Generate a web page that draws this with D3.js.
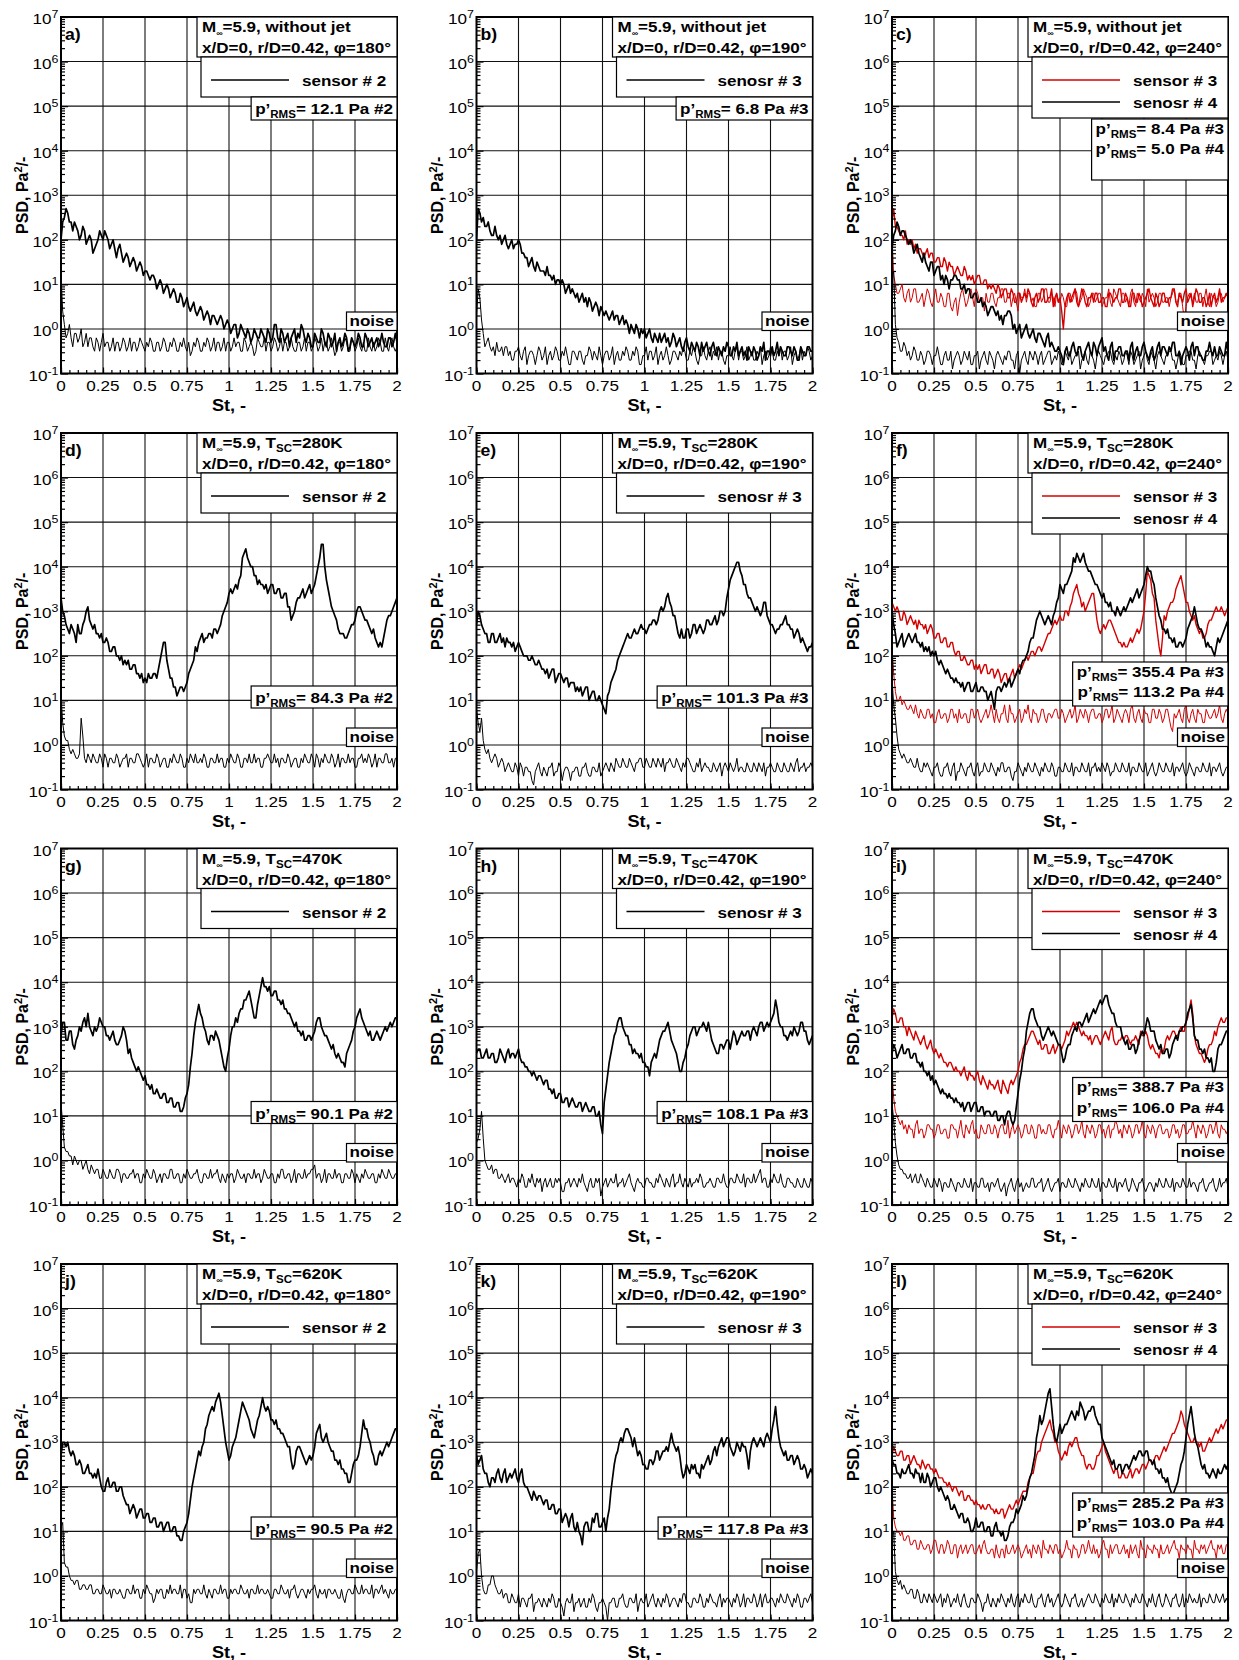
<!doctype html>
<html>
<head>
<meta charset="utf-8">
<title>PSD spectra</title>
<script src="https://cdn.jsdelivr.net/npm/d3@7"></script>
<style>
  body { margin: 0; background: #fff; }
  svg { display: block; font-family: "Liberation Sans", Arial, Helvetica, sans-serif; }
</style>
</head>
<body>
<svg id="chart" width="1239" height="1660"></svg>
<script>
// spectra sampled every 0.01 St from 0 to 2, values in dB: 10*log10(PSD / (1 Pa^2))
var stStep = 0.01;

var aSig = [20,24,25,27,26,24,24,22,24,23,22,20,21,23,22,19,20,21,20,17,
  18,19,20,22,21,20,22,21,20,18,19,20,18,16,18,19,17,15,16,17,
  16,14,15,16,15,13,14,15,14,12,13,13,12,11,12,12,11,9,10,11,
  10,8,9,10,9,7,8,9,8,6,6,8,7,5,6,7,5,4,5,6,
  4,3,4,5,4,2,3,4,3,1,3,3,2,1,2,3,2,0,1,2,
  1,-1,0,1,1,-2,-1,1,0,-1,-2,0,-1,-3,-2,0,-1,-2,-2,0,
  -1,-2,-3,0,-1,-3,-2,1,1,-2,-3,0,-1,-3,-2,-1,-4,-2,-1,0,
  -3,-1,-2,1,0,-2,-3,-1,-2,-4,-4,-1,-2,-3,-3,0,-1,-3,-4,-1,
  -2,-4,-3,-1,-5,-3,-2,-4,-3,-1,-2,-5,-4,-2,-3,-4,-3,-1,-2,-4,
  -4,-1,-2,-4,-3,-2,-4,-3,-2,-4,-3,-1,-3,-4,-4,-2,-2,-4,-3,-1,
  -3];
var aNoise = [12,4,1,-2,-1,1,-2,-4,-1,-1,-3,-2,0,-4,-3,-1,-4,-2,-2,-4,
  -5,-2,-3,-5,-3,-1,-4,-3,-3,-5,-4,-2,-5,-3,-3,-5,-4,-2,-3,-5,
  -4,-2,-5,-3,-3,-5,-4,-2,-3,-4,-5,-3,-4,-2,-3,-5,-5,-3,-3,-5,
  -4,-2,-3,-5,-5,-3,-4,-2,-3,-5,-5,-3,-4,-2,-4,-5,-3,-6,-5,-3,
  -4,-2,-3,-5,-5,-3,-4,-2,-3,-5,-4,-2,-5,-3,-3,-5,-4,-2,-5,-3,
  -3,-5,-4,-2,-4,-3,-3,-5,-5,-2,-3,-5,-4,-3,-4,-6,-5,-2,-3,-4,
  -4,-2,-5,-3,-3,-5,-4,-2,-3,-5,-4,-2,-5,-3,-3,-5,-4,-2,-4,-5,
  -5,-3,-3,-5,-4,-2,-5,-3,-3,-5,-4,-2,-3,-5,-4,-2,-5,-3,-3,-5,
  -4,-2,-4,-6,-5,-3,-3,-5,-4,-2,-3,-5,-5,-2,-3,-5,-4,-2,-4,-5,
  -3,-5,-5,-2,-4,-5,-3,-5,-4,-2,-3,-5,-5,-2,-4,-5,-3,-2,-4,-5,
  -4];

var bSig = [20,27,26,24,25,23,23,24,22,21,21,23,21,20,21,19,20,21,19,18,
  19,20,18,19,19,20,19,17,17,16,16,14,15,16,14,13,15,14,13,13,
  13,12,14,12,12,11,12,10,11,11,10,11,10,8,9,10,8,9,8,7,
  8,6,7,8,6,7,5,7,6,4,5,6,5,3,5,4,3,4,3,2,
  3,4,2,3,3,1,2,3,1,2,1,-1,1,0,-1,1,0,-2,0,-1,
  0,-2,-1,0,-2,-3,-1,-2,-3,-1,-3,-2,-1,-3,-2,-4,-3,-1,-2,-4,
  -3,-2,-4,-5,-3,-2,-4,-5,-3,-4,-5,-3,-4,-6,-3,-5,-4,-3,-5,-6,
  -4,-3,-5,-6,-4,-5,-6,-4,-5,-3,-4,-6,-6,-4,-5,-3,-6,-5,-4,-6,
  -5,-7,-4,-5,-6,-4,-5,-7,-6,-4,-5,-3,-7,-5,-5,-6,-4,-6,-5,-3,
  -6,-4,-5,-6,-6,-4,-4,-5,-6,-4,-5,-7,-7,-4,-5,-6,-6,-4,-4,-5,
  -5];
var bNoise = [3,9,7,2,-1,-4,-3,-2,-4,-5,-4,-6,-3,-5,-5,-4,-6,-4,-4,-6,
  -5,-7,-7,-5,-5,-4,-6,-7,-5,-4,-8,-6,-5,-5,-6,-8,-6,-4,-5,-7,
  -6,-4,-8,-6,-5,-7,-6,-4,-5,-7,-7,-5,-6,-4,-6,-8,-8,-5,-5,-6,
  -7,-5,-5,-7,-8,-6,-6,-4,-5,-7,-5,-6,-7,-4,-6,-8,-6,-5,-5,-7,
  -6,-4,-8,-6,-5,-7,-7,-5,-6,-4,-5,-7,-7,-5,-6,-4,-5,-8,-8,-6,
  -6,-4,-7,-5,-5,-7,-6,-4,-8,-6,-5,-7,-6,-4,-6,-8,-7,-5,-5,-6,
  -7,-5,-6,-4,-5,-7,-7,-5,-6,-4,-5,-7,-8,-6,-6,-4,-6,-7,-5,-4,
  -7,-5,-6,-4,-7,-5,-5,-7,-8,-6,-6,-4,-6,-7,-5,-4,-7,-5,-5,-7,
  -6,-4,-7,-6,-5,-7,-7,-5,-6,-4,-8,-6,-5,-7,-6,-4,-5,-7,-7,-5,
  -6,-4,-7,-5,-5,-7,-6,-4,-8,-6,-5,-7,-6,-4,-7,-5,-6,-4,-5,-7,
  -6];

var cSig3 = [24,27,23,23,22,21,21,20,22,19,20,19,20,18,19,17,18,18,17,16,
  17,18,16,17,17,15,15,16,16,14,14,16,15,13,15,14,14,12,13,14,
  13,12,12,14,13,11,12,11,12,10,11,12,12,10,10,11,11,9,10,9,
  10,9,8,10,9,7,8,9,9,7,7,9,8,6,6,8,8,6,7,8,
  7,9,8,6,5,7,8,6,7,9,9,6,6,7,7,9,5,7,8,6,
  7,4,0,5,7,8,6,7,8,9,6,5,7,9,8,6,5,7,7,8,
  6,8,8,6,6,7,7,5,5,8,8,7,6,7,7,9,9,6,6,8,
  7,5,5,8,8,6,6,8,7,5,6,7,8,9,7,6,5,8,7,5,
  6,8,8,6,6,7,7,9,9,6,5,8,7,6,8,9,6,7,8,5,
  7,9,8,6,6,7,7,5,6,8,5,7,8,6,7,9,6,7,7,8,
  7];
var cSig4 = [18,21,22,24,23,21,22,22,21,20,19,20,19,17,18,19,17,16,15,17,
  15,14,13,15,15,12,13,14,14,11,12,10,12,11,9,11,11,12,12,11,
  11,9,9,10,8,9,9,7,7,8,8,6,6,7,5,6,5,3,4,5,
  5,4,3,4,2,3,1,3,3,4,4,3,0,1,-1,0,1,-2,-1,0,
  1,-1,-2,-1,0,-2,-3,-1,-1,-2,-3,-4,-2,-1,-4,-3,-4,-5,-5,-4,
  -5,-6,-8,-5,-4,-6,-6,-4,-3,-5,-6,-4,-4,-6,-7,-5,-4,-3,-5,-6,
  -3,-4,-6,-4,-3,-2,-5,-4,-6,-7,-4,-3,-7,-5,-5,-4,-4,-6,-6,-5,
  -5,-7,-4,-3,-7,-5,-4,-6,-6,-4,-3,-5,-6,-7,-5,-4,-7,-6,-4,-3,
  -6,-4,-4,-5,-6,-4,-5,-3,-3,-6,-6,-5,-8,-6,-5,-4,-5,-7,-4,-3,
  -6,-4,-4,-6,-6,-7,-7,-5,-5,-3,-5,-6,-4,-6,-6,-4,-5,-6,-6,-3,
  -5];
var cNoise3 = [21,12,10,8,8,9,10,7,6,8,9,6,7,9,9,6,6,7,8,5,
  7,9,8,6,5,7,9,6,6,8,7,5,5,8,8,5,4,6,7,3,
  6,8,9,7,5,6,8,9,7,5,9,8,6,7,7,4,8,6,6,8,
  8,6,5,7,7,9,9,6,6,8,8,5,7,8,6,4,8,7,7,9,
  6,8,8,6,7,5,5,8,8,6,7,9,9,6,6,8,7,5,8,6,
  6,8,7,5,5,8,8,6,7,9,8,5,6,7,9,8,7,5,6,8,
  8,6,7,8,8,5,6,7,7,9,6,5,9,8,7,6,5,8,8,6,
  7,5,8,9,6,5,8,7,6,8,7,5,9,6,7,8,7,5,6,8,
  8,6,6,7,7,5,7,8,9,6,6,8,8,5,2,5,7,8,7,6,
  8,6,6,8,8,5,7,9,6,5,8,7,7,5,6,8,8,6,7,8,
  7];
var cNoise4 = [12,13,1,-2,-3,-5,-5,-3,-4,-6,-5,-7,-6,-4,-5,-7,-7,-5,-6,-8,
  -7,-5,-5,-6,-8,-6,-6,-4,-6,-8,-8,-6,-5,-7,-7,-5,-9,-7,-6,-5,
  -6,-8,-7,-5,-6,-7,-5,-8,-8,-6,-6,-5,-9,-7,-6,-5,-7,-8,-5,-6,
  -7,-9,-6,-5,-6,-7,-8,-6,-7,-5,-5,-7,-7,-9,-6,-5,-10,-7,-6,-5,
  -7,-8,-5,-6,-7,-5,-6,-8,-6,-5,-8,-7,-6,-5,-5,-8,-7,-6,-7,-5,
  -6,-8,-8,-5,-6,-7,-5,-8,-7,-6,-6,-5,-9,-7,-6,-5,-7,-8,-5,-6,
  -7,-9,-6,-5,-6,-7,-8,-6,-6,-5,-5,-7,-8,-6,-7,-5,-6,-8,-7,-5,
  -6,-8,-5,-6,-8,-7,-6,-5,-9,-7,-6,-5,-7,-8,-5,-6,-7,-9,-6,-5,
  -6,-7,-8,-6,-6,-5,-5,-7,-7,-9,-7,-5,-6,-8,-8,-6,-6,-5,-5,-7,
  -7,-9,-6,-5,-6,-7,-8,-6,-6,-5,-5,-8,-7,-6,-7,-5,-6,-8,-6,-5,
  -7];

var dSig = [33,30,29,27,26,25,27,26,25,23,27,25,25,27,28,30,31,28,27,26,
  27,25,25,24,25,23,23,24,23,21,21,22,22,20,20,19,20,18,19,18,
  19,17,17,18,18,16,16,15,16,14,15,14,16,15,15,16,16,15,17,19,
  21,23,23,19,17,15,15,13,13,11,12,13,13,12,13,14,16,17,18,19,
  22,21,23,24,25,23,24,24,25,25,24,26,26,25,26,27,29,30,31,32,
  34,35,34,35,36,35,37,38,42,43,44,42,41,40,40,38,38,36,37,36,
  36,35,36,34,35,36,36,34,34,35,35,33,33,34,34,31,31,28,29,30,
  32,33,33,34,35,33,34,35,36,34,35,36,38,40,42,45,45,40,37,35,
  33,31,30,29,28,26,25,25,25,24,24,25,26,27,27,28,30,31,31,30,
  29,28,28,27,26,25,26,24,23,22,23,22,24,26,28,29,29,30,31,32,
  33];
var dNoise = [11,5,2,1,1,-1,-2,-1,-2,-3,-3,-2,6,2,-3,-4,-2,-3,-4,-2,
  -3,-4,-4,-2,-3,-5,-2,-3,-5,-3,-3,-4,-4,-2,-3,-5,-4,-3,-3,-2,
  -5,-3,-3,-4,-4,-2,-2,-3,-4,-5,-4,-2,-5,-3,-3,-4,-4,-2,-3,-5,
  -4,-3,-3,-5,-5,-3,-4,-2,-3,-4,-4,-2,-3,-5,-5,-3,-4,-2,-3,-4,
  -2,-4,-4,-3,-4,-2,-3,-5,-5,-3,-3,-4,-4,-2,-4,-3,-3,-5,-5,-3,
  -4,-2,-3,-4,-4,-2,-3,-5,-5,-3,-3,-4,-2,-4,-4,-2,-4,-3,-3,-5,
  -5,-3,-3,-2,-3,-4,-4,-2,-4,-3,-5,-3,-3,-4,-4,-2,-3,-5,-4,-3,
  -3,-5,-5,-3,-4,-2,-3,-4,-4,-2,-3,-5,-2,-3,-5,-3,-4,-2,-3,-4,
  -4,-2,-3,-5,-4,-2,-5,-3,-3,-4,-4,-2,-4,-3,-3,-5,-5,-3,-3,-2,
  -4,-3,-4,-2,-3,-5,-4,-2,-5,-3,-3,-4,-4,-2,-2,-4,-4,-3,-5,-3,
  -3];

var eSig = [27,30,29,27,26,25,25,23,23,25,25,23,23,24,25,23,24,22,24,23,
  23,22,23,21,22,23,22,21,20,20,20,19,19,20,19,18,18,19,18,17,
  17,16,17,15,16,17,17,14,15,16,16,15,14,15,15,13,14,14,14,12,
  13,12,13,11,12,13,13,10,11,12,12,10,10,11,10,9,8,7,11,12,
  14,15,16,17,19,20,21,22,23,24,25,24,24,25,26,25,25,26,27,26,
  26,25,26,27,27,28,28,27,28,30,31,30,31,33,34,32,31,29,29,27,
  25,24,26,24,24,26,26,24,25,27,27,25,26,27,26,25,26,28,28,27,
  27,28,29,27,28,30,30,29,30,33,35,37,38,39,40,41,41,39,38,36,
  36,34,33,33,32,31,30,31,30,29,30,32,32,29,28,27,27,26,25,26,
  26,27,27,28,29,27,27,26,26,24,25,26,25,23,24,23,22,21,22,22,
  23];
var eNoise = [8,5,3,6,1,-1,-2,-1,-3,-4,-3,-2,-3,-5,-4,-3,-4,-6,-5,-4,
  -5,-6,-6,-4,-5,-7,-4,-5,-7,-5,-5,-6,-6,-8,-9,-6,-5,-4,-6,-7,
  -5,-6,-7,-5,-5,-4,-7,-6,-6,-4,-5,-8,-6,-5,-5,-6,-8,-6,-6,-5,
  -5,-7,-7,-5,-5,-4,-6,-7,-7,-5,-5,-6,-6,-4,-7,-6,-5,-4,-5,-6,
  -4,-5,-6,-3,-4,-5,-5,-3,-4,-5,-5,-3,-4,-5,-6,-4,-4,-3,-3,-5,
  -5,-3,-4,-5,-5,-3,-4,-5,-3,-4,-5,-3,-6,-4,-4,-3,-4,-5,-5,-3,
  -4,-5,-6,-4,-5,-3,-3,-4,-5,-6,-6,-4,-5,-3,-6,-5,-4,-5,-5,-6,
  -6,-4,-5,-6,-5,-4,-7,-5,-4,-5,-6,-4,-5,-6,-5,-3,-6,-5,-5,-6,
  -6,-4,-5,-6,-6,-4,-5,-6,-4,-5,-6,-4,-7,-5,-5,-4,-5,-6,-6,-4,
  -5,-6,-6,-4,-5,-6,-6,-4,-5,-6,-4,-3,-6,-5,-5,-4,-6,-5,-5,-4,
  -5];

var fSig3 = [32,31,30,31,30,28,28,30,29,27,28,29,28,27,28,26,28,27,27,26,
  27,25,26,27,26,24,24,25,25,23,23,24,24,22,22,23,23,21,20,21,
  21,19,19,20,19,18,18,19,19,17,18,17,18,16,17,18,18,16,16,17,
  17,15,16,17,16,14,15,16,16,14,15,16,17,15,16,17,18,17,18,19,
  20,19,20,21,21,20,21,22,22,21,22,23,24,25,25,26,27,28,27,28,
  29,28,28,30,30,29,31,32,34,35,36,34,33,31,32,30,31,32,33,34,
  34,31,28,26,25,26,27,26,27,28,28,27,26,25,24,23,23,22,23,22,
  22,23,24,23,24,25,26,25,26,28,30,34,39,38,37,34,33,28,25,22,
  20,24,29,28,30,31,32,32,33,35,36,37,38,36,34,32,32,30,29,28,
  29,27,26,25,26,24,24,25,27,28,28,29,30,31,30,30,31,30,29,30,
  31];
var fSig4 = [30,27,25,22,23,24,25,22,23,24,25,24,23,24,25,23,23,22,23,21,
  22,21,22,20,21,20,21,19,18,19,18,17,16,17,16,15,15,14,15,14,
  14,13,14,12,13,14,14,12,12,13,14,12,12,13,13,12,12,10,11,12,
  10,8,12,13,13,12,13,14,13,14,15,13,14,15,16,17,16,18,19,19,
  20,21,23,24,24,26,28,29,30,29,28,27,28,29,28,27,29,30,32,33,
  36,35,34,36,36,37,38,39,42,41,43,42,41,42,43,41,40,39,39,38,
  37,36,36,35,34,33,34,32,32,31,32,30,30,29,31,30,29,30,31,30,
  31,32,33,32,33,34,35,33,34,35,36,38,40,39,39,37,36,33,31,29,
  28,26,26,25,26,24,24,23,24,22,22,23,23,22,23,24,26,27,28,29,
  31,29,27,26,26,25,24,22,23,22,22,21,20,22,24,23,24,25,26,27,
  28];
var fNoise3 = [22,16,12,10,10,11,9,10,9,8,8,9,8,7,9,7,6,8,7,6,
  6,8,8,6,7,5,5,7,8,6,6,7,7,5,6,8,8,6,7,5,
  8,6,6,7,7,5,5,8,8,6,7,8,6,5,6,7,8,6,7,9,
  7,5,8,6,5,7,7,9,6,5,9,7,7,5,6,7,8,5,6,8,
  7,9,6,5,8,7,7,5,6,8,8,6,5,7,7,6,7,8,8,6,
  6,8,7,5,6,7,8,6,7,9,5,6,8,7,6,8,7,5,7,8,
  8,6,6,7,7,5,6,8,8,6,7,9,5,6,8,7,6,5,7,8,
  7,5,8,9,6,5,7,8,6,5,8,7,7,5,5,8,8,6,6,8,
  7,5,6,8,8,6,4,3,7,6,7,8,6,5,8,9,6,5,7,8,
  6,5,8,7,7,5,5,8,7,6,6,7,8,6,7,9,6,5,7,8,
  7];
var fNoise4 = [15,9,6,2,-1,-2,-3,-2,-3,-4,-4,-3,-4,-5,-5,-3,-5,-6,-6,-4,
  -5,-4,-5,-6,-7,-5,-5,-4,-6,-7,-7,-5,-5,-4,-6,-7,-5,-4,-8,-6,
  -6,-4,-5,-6,-7,-5,-5,-4,-6,-7,-5,-4,-7,-6,-6,-4,-5,-6,-6,-4,
  -5,-6,-7,-5,-6,-4,-4,-6,-6,-5,-5,-7,-8,-6,-6,-4,-5,-6,-7,-5,
  -6,-4,-5,-6,-6,-4,-5,-6,-7,-5,-6,-4,-5,-6,-6,-4,-5,-7,-7,-5,
  -5,-6,-6,-4,-5,-6,-6,-4,-7,-5,-5,-6,-6,-4,-5,-6,-6,-4,-7,-5,
  -5,-4,-6,-5,-6,-4,-5,-6,-4,-5,-7,-6,-6,-4,-5,-6,-6,-4,-5,-6,
  -6,-4,-7,-5,-5,-6,-6,-4,-5,-6,-6,-4,-7,-6,-5,-4,-6,-7,-6,-4,
  -5,-6,-6,-4,-5,-6,-6,-4,-7,-5,-5,-6,-5,-4,-6,-7,-6,-4,-5,-6,
  -7,-5,-5,-6,-6,-4,-5,-6,-6,-4,-7,-5,-5,-6,-5,-4,-6,-7,-6,-5,
  -5];

var gSig = [28,31,31,27,27,29,29,26,25,27,28,30,29,31,32,30,33,30,29,28,
  30,29,30,32,31,30,30,28,28,27,28,29,27,26,26,27,28,30,29,27,
  24,25,23,22,21,20,21,20,19,18,19,17,17,16,17,15,15,16,15,14,
  14,15,15,13,13,14,14,12,12,13,13,11,11,12,14,15,17,21,24,28,
  31,33,35,33,32,30,29,27,26,28,28,27,29,28,27,25,23,21,20,23,
  25,28,30,30,32,31,33,34,34,36,36,37,38,36,34,32,32,35,37,39,
  41,39,39,38,39,37,37,38,38,36,36,35,36,34,34,33,33,32,31,30,
  31,29,29,28,29,27,27,28,28,27,28,29,31,32,32,30,29,28,28,27,
  26,25,26,24,23,24,23,22,22,21,24,25,26,27,29,30,32,33,34,32,
  31,30,29,28,29,27,27,28,29,28,27,28,29,30,29,30,31,30,31,32,
  32];
var gNoise = [13,8,3,2,2,1,1,-1,1,0,-1,0,0,-2,-1,0,-2,-3,-1,-2,
  -3,-2,-2,-4,-4,-2,-3,-4,-4,-2,-3,-4,-4,-2,-2,-3,-5,-3,-3,-4,
  -4,-3,-3,-2,-4,-3,-3,-5,-5,-3,-4,-2,-3,-4,-4,-2,-3,-5,-4,-3,
  -5,-3,-3,-4,-4,-2,-2,-4,-4,-3,-3,-5,-5,-3,-4,-2,-3,-4,-4,-3,
  -3,-2,-4,-5,-5,-3,-3,-4,-4,-2,-4,-3,-3,-2,-4,-5,-3,-4,-5,-3,
  -4,-3,-3,-5,-4,-2,-3,-4,-4,-3,-5,-3,-3,-4,-4,-2,-4,-3,-3,-5,
  -4,-2,-3,-4,-4,-3,-3,-5,-5,-3,-4,-2,-2,-4,-4,-3,-3,-5,-4,-2,
  -5,-3,-3,-4,-4,-2,-4,-3,-3,-2,-2,-1,-4,-3,-3,-5,-4,-2,-5,-3,
  -3,-4,-4,-2,-4,-3,-3,-5,-5,-3,-3,-4,-4,-2,-3,-5,-3,-4,-5,-3,
  -4,-2,-3,-4,-4,-3,-3,-5,-5,-3,-4,-2,-3,-4,-4,-2,-3,-4,-4,-3,
  -3];

var hSig = [24,25,25,23,23,24,25,23,23,24,24,22,22,23,25,24,23,22,24,25,
  23,24,24,23,24,25,23,22,22,21,21,20,20,19,20,19,18,19,19,18,
  17,18,18,16,16,15,16,14,14,15,15,13,13,14,14,12,13,14,13,12,
  12,13,13,11,12,13,12,11,11,12,12,10,10,11,8,6,13,16,19,22,
  24,26,28,29,31,32,32,30,29,28,28,26,26,24,25,24,24,23,24,22,
  22,21,21,19,22,23,24,23,25,27,28,29,29,30,31,29,27,26,25,24,
  22,20,20,22,23,25,26,28,29,30,30,28,29,30,30,31,30,29,31,29,
  27,26,25,24,24,26,26,25,26,27,27,25,27,29,28,26,27,28,29,28,
  28,29,29,27,29,30,29,28,30,31,31,29,30,31,30,31,32,33,36,34,
  31,30,30,28,28,27,28,29,28,30,29,28,29,31,31,29,29,27,26,27,
  28];
var hNoise = [4,5,7,11,5,0,-1,-2,-2,-1,-3,-2,-2,-4,-4,-3,-4,-5,-4,-3,
  -5,-4,-4,-5,-6,-4,-5,-3,-4,-6,-6,-4,-5,-3,-5,-6,-4,-5,-4,-7,
  -5,-4,-6,-5,-4,-6,-6,-4,-5,-4,-5,-7,-7,-5,-5,-4,-6,-5,-4,-5,
  -6,-4,-5,-3,-5,-6,-7,-5,-4,-6,-6,-4,-5,-4,-8,-6,-5,-4,-6,-5,
  -4,-5,-5,-3,-6,-5,-5,-4,-6,-5,-4,-3,-5,-6,-7,-5,-4,-5,-5,-6,
  -6,-4,-4,-5,-5,-6,-6,-4,-5,-3,-4,-5,-6,-4,-5,-6,-4,-3,-6,-5,
  -5,-3,-5,-6,-4,-5,-6,-4,-6,-5,-5,-4,-5,-3,-4,-6,-6,-5,-5,-4,
  -5,-6,-6,-4,-4,-5,-5,-3,-5,-6,-6,-4,-4,-5,-5,-3,-4,-5,-5,-3,
  -6,-4,-4,-5,-5,-3,-5,-4,-3,-2,-5,-4,-4,-6,-6,-4,-5,-3,-4,-5,
  -5,-3,-5,-6,-6,-4,-4,-5,-5,-6,-6,-4,-5,-6,-6,-4,-5,-6,-6,-4,
  -5];

var iSig3 = [32,34,33,31,31,32,32,30,30,28,30,29,28,27,29,28,27,26,27,28,
  26,25,26,27,25,24,25,24,23,24,23,22,22,21,22,22,21,20,21,20,
  20,19,20,21,19,18,20,19,19,18,19,20,18,17,19,18,17,16,18,17,
  17,16,17,18,16,15,18,17,16,15,17,18,17,18,19,20,22,23,25,26,
  26,27,28,29,29,28,27,26,27,25,25,26,26,24,24,25,26,24,25,26,
  26,25,26,27,29,28,29,30,31,30,31,30,29,28,29,28,28,27,28,26,
  27,28,28,27,26,27,28,29,28,27,29,30,27,26,26,27,27,28,27,28,
  28,27,26,27,27,28,27,26,29,28,28,29,28,26,25,26,25,24,24,23,
  25,24,25,27,28,27,28,29,29,28,28,29,30,29,29,31,32,34,36,33,
  28,26,25,24,24,23,22,23,25,26,26,27,29,28,30,31,32,31,31,32,
  32];
var iSig4 = [24,26,25,23,24,25,26,24,24,25,25,23,23,24,24,22,22,21,22,20,
  20,19,20,18,19,17,18,17,16,15,16,15,15,14,15,14,14,13,14,13,
  13,12,13,11,12,13,13,11,12,13,13,11,11,12,12,10,11,11,11,10,
  10,11,11,9,9,10,10,8,10,11,11,9,8,9,12,15,18,20,23,25,
  29,31,33,34,34,32,31,30,30,28,27,28,29,30,29,28,29,28,27,26,
  26,24,22,23,25,26,26,28,29,30,29,31,31,30,31,32,33,31,32,33,
  34,33,34,35,36,35,36,37,37,35,34,33,33,31,30,30,30,28,27,26,
  27,25,25,26,26,24,25,27,28,29,28,30,32,31,29,29,29,27,26,25,
  26,24,24,25,25,23,24,26,27,28,27,29,29,30,30,31,33,34,35,32,
  28,27,27,25,25,24,25,23,23,22,23,20,20,22,25,26,26,27,28,29,
  29];
var iNoise3 = [20,14,11,10,9,8,9,7,8,6,8,7,7,5,8,9,6,7,7,5,
  6,8,8,7,7,5,6,8,8,6,6,7,7,5,5,8,8,7,7,5,
  7,9,6,5,8,7,6,8,9,6,7,5,5,8,7,6,6,8,8,6,
  6,8,7,5,7,8,8,6,6,9,5,7,8,6,7,8,7,5,6,8,
  8,6,6,8,7,5,5,8,8,6,7,6,6,8,8,6,5,7,7,9,
  7,5,8,7,6,8,7,5,6,8,8,6,7,9,6,5,8,7,6,8,
  7,5,6,8,8,6,7,5,7,8,5,7,7,9,8,6,7,5,8,7,
  6,8,7,5,6,8,8,6,7,9,6,5,8,7,6,8,7,5,7,8,
  8,6,6,7,7,5,6,8,8,6,7,5,6,8,8,6,6,7,7,9,
  7,5,8,7,6,8,7,5,6,8,8,6,7,9,6,5,8,7,7,6,
  7];
var iNoise4 = [13,9,4,1,-1,-2,-2,-3,-3,-4,-4,-3,-5,-4,-3,-5,-5,-3,-4,-5,
  -6,-4,-5,-6,-6,-4,-5,-6,-4,-5,-7,-5,-5,-6,-6,-4,-5,-6,-7,-5,
  -5,-6,-6,-4,-5,-6,-6,-4,-7,-5,-5,-6,-6,-4,-4,-6,-6,-5,-7,-5,
  -5,-6,-5,-4,-6,-7,-6,-5,-8,-6,-5,-4,-6,-7,-5,-4,-6,-5,-7,-6,
  -5,-6,-6,-4,-4,-6,-6,-5,-5,-4,-7,-6,-5,-4,-6,-7,-6,-5,-5,-4,
  -7,-5,-5,-6,-6,-4,-5,-6,-6,-4,-5,-6,-7,-5,-6,-4,-5,-6,-6,-4,
  -5,-6,-6,-4,-7,-5,-5,-6,-6,-4,-5,-6,-6,-4,-7,-5,-5,-6,-5,-4,
  -6,-7,-6,-4,-5,-6,-7,-5,-5,-4,-6,-7,-6,-5,-5,-6,-7,-5,-6,-4,
  -5,-6,-6,-4,-5,-6,-6,-4,-7,-5,-5,-6,-6,-4,-5,-6,-6,-4,-6,-5,
  -5,-6,-7,-5,-5,-4,-6,-7,-6,-5,-5,-4,-6,-7,-6,-4,-6,-5,-5,-4,
  -6];

var jSig = [27,30,30,29,30,28,27,28,27,25,25,26,25,23,23,24,25,23,23,22,
  23,22,24,22,20,19,19,21,22,20,20,21,21,19,19,20,20,18,17,16,
  16,14,15,16,15,13,14,15,15,13,13,14,14,12,12,13,13,11,11,12,
  12,10,11,12,12,10,10,11,11,9,9,8,8,10,11,12,14,17,20,22,
  24,26,28,27,29,30,33,34,36,37,38,37,39,40,41,39,36,33,30,28,
  26,27,29,30,31,33,35,37,39,38,37,36,35,33,32,31,33,35,36,38,
  40,38,37,38,37,35,35,34,35,33,33,32,32,31,30,29,29,26,24,25,
  28,29,29,28,27,26,25,26,27,26,27,29,32,33,34,31,30,31,32,30,
  29,28,28,26,26,25,26,24,24,23,23,21,21,23,25,26,26,27,29,32,
  35,33,33,31,30,28,27,25,25,27,28,27,28,29,30,29,30,31,32,33,
  33];
var jNoise = [11,12,3,2,2,0,-1,-1,-2,-1,-1,-3,-3,-2,-2,-3,-3,-2,-2,-4,
  -4,-3,-3,-4,-4,-2,-3,-4,-4,-3,-5,-3,-3,-4,-4,-3,-4,-5,-5,-3,
  -3,-4,-4,-2,-4,-3,-3,-5,-5,-3,-4,-2,-3,-4,-4,-6,-5,-3,-4,-3,
  -3,-5,-5,-3,-4,-2,-4,-3,-3,-4,-4,-2,-5,-3,-3,-5,-4,-6,-6,-3,
  -4,-3,-3,-4,-4,-2,-4,-5,-3,-4,-5,-3,-3,-4,-4,-2,-4,-3,-3,-5,
  -5,-3,-4,-3,-3,-4,-4,-2,-3,-4,-4,-3,-5,-3,-3,-4,-4,-2,-4,-3,
  -3,-4,-4,-3,-4,-5,-5,-3,-3,-4,-4,-2,-3,-4,-4,-3,-5,-3,-3,-2,
  -4,-5,-4,-3,-3,-4,-5,-3,-4,-3,-3,-2,-4,-5,-3,-4,-4,-3,-5,-3,
  -3,-4,-4,-3,-4,-5,-5,-3,-5,-6,-4,-3,-3,-4,-4,-2,-3,-4,-4,-2,
  -4,-3,-3,-4,-4,-2,-5,-3,-3,-4,-3,-2,-4,-3,-4,-5,-3,-4,-4,-3,
  -3];

var kSig = [27,25,26,27,24,23,23,21,20,22,22,21,23,24,22,21,23,24,21,22,
  23,22,23,24,22,21,23,24,21,20,20,19,18,17,19,18,17,18,18,17,
  16,17,17,15,15,16,16,14,14,15,15,12,13,14,13,11,13,14,11,10,
  12,10,9,7,11,12,12,10,10,13,12,14,14,11,11,12,13,10,13,15,
  19,22,25,27,28,30,31,30,32,33,33,32,31,29,31,29,27,28,27,25,
  25,24,24,26,26,25,26,28,28,26,27,28,28,29,28,30,32,30,29,28,
  29,27,24,22,23,25,24,23,25,24,25,23,23,22,25,24,25,26,27,25,
  26,28,29,27,29,30,31,29,30,31,31,29,28,27,28,30,29,28,30,29,
  29,27,24,28,30,31,30,29,30,31,30,29,31,32,31,30,33,35,38,34,
  31,29,28,27,28,26,26,27,27,25,26,27,26,24,24,25,24,22,23,24,
  23];
var kNoise = [1,5,6,0,-3,-4,-4,-2,-2,0,0,-2,-3,-4,-4,-3,-5,-4,-4,-6,
  -6,-4,-5,-6,-6,-4,-7,-5,-5,-6,-7,-5,-5,-4,-8,-6,-6,-5,-6,-7,
  -5,-6,-7,-5,-6,-4,-5,-7,-7,-5,-6,-7,-9,-6,-5,-6,-6,-4,-8,-6,
  -6,-5,-7,-6,-5,-7,-7,-5,-6,-4,-5,-7,-8,-6,-6,-5,-6,-7,-10,-6,
  -6,-5,-5,-7,-7,-5,-5,-4,-6,-7,-7,-5,-5,-6,-6,-4,-8,-6,-5,-6,
  -6,-4,-7,-6,-5,-4,-6,-7,-5,-6,-7,-5,-6,-4,-5,-7,-6,-5,-5,-6,
  -7,-5,-6,-4,-4,-6,-6,-7,-7,-5,-5,-6,-6,-4,-5,-7,-7,-5,-6,-4,
  -5,-6,-6,-7,-5,-4,-7,-5,-6,-5,-5,-6,-7,-5,-6,-4,-5,-7,-6,-4,
  -7,-5,-5,-6,-6,-4,-5,-7,-6,-4,-7,-5,-4,-6,-6,-5,-5,-6,-7,-5,
  -6,-4,-5,-6,-6,-4,-5,-6,-7,-5,-6,-4,-5,-7,-7,-5,-5,-6,-5,-4,
  -6];

var lSig3 = [27,29,28,27,27,28,28,26,26,27,27,25,26,27,26,25,25,24,26,25,
  24,25,25,24,24,23,24,23,22,22,22,21,21,20,21,20,19,20,20,19,
  18,19,19,17,17,18,18,17,17,16,17,16,16,15,16,15,15,16,16,15,
  15,14,15,14,14,15,15,13,14,15,16,15,15,16,17,16,17,18,19,19,
  19,21,22,23,23,25,27,28,28,30,31,32,33,34,35,33,32,30,30,28,
  27,26,27,28,27,29,30,29,30,31,31,29,28,27,27,25,24,25,25,24,
  24,25,27,27,28,29,30,28,27,26,25,24,23,24,24,22,22,23,23,22,
  22,23,24,22,23,24,24,23,24,25,25,24,25,26,26,25,26,27,27,26,
  27,28,29,28,29,30,31,32,32,33,34,35,37,36,34,33,32,31,30,30,
  31,30,30,29,30,28,28,29,30,31,30,31,32,33,32,33,34,33,34,35,
  35];
var lSig4 = [26,25,25,23,23,22,24,23,23,24,25,23,23,22,24,23,23,21,23,21,
  21,23,22,20,21,22,22,20,19,20,19,18,17,18,17,15,15,16,15,14,
  13,14,14,12,12,13,12,10,10,11,13,11,11,12,12,10,10,11,11,9,
  9,11,12,10,10,9,10,8,8,9,11,12,12,13,15,14,15,16,18,17,
  18,20,22,23,25,27,31,33,36,34,35,37,39,41,42,38,34,31,30,32,
  34,32,33,34,34,35,36,37,36,35,37,36,39,38,37,35,36,37,37,38,
  38,36,35,34,34,31,30,29,28,27,26,25,26,24,24,25,25,23,24,25,
  25,24,25,26,27,26,27,28,28,27,27,28,28,26,26,25,26,24,24,23,
  24,22,22,21,22,20,19,18,19,20,21,23,25,26,28,31,34,36,38,35,
  32,30,29,27,25,24,25,23,23,22,23,24,23,22,24,23,23,24,25,24,
  25];
var lNoise3 = [20,13,11,10,10,9,10,8,8,9,9,7,7,8,8,6,6,8,7,6,
  6,7,7,5,6,8,8,6,5,7,7,5,6,8,7,5,5,7,7,4,
  6,7,5,6,7,5,6,7,7,5,5,6,7,5,7,8,6,5,5,6,
  6,4,7,5,4,6,6,4,7,5,5,6,7,5,6,7,6,4,5,6,
  7,5,6,4,7,6,5,7,6,4,8,6,6,5,7,6,5,7,7,5,
  6,4,5,6,8,6,6,4,7,6,6,4,5,7,7,5,6,8,6,5,
  7,5,6,4,5,7,8,6,6,4,7,5,6,7,7,5,5,6,7,5,
  6,4,7,5,6,7,5,4,8,6,6,4,7,6,6,5,7,6,6,4,
  7,5,5,6,7,5,6,7,8,6,6,4,7,6,6,5,7,6,6,4,
  8,6,6,5,7,6,7,5,6,7,8,6,6,4,7,6,7,5,5,7,
  7];
var lNoise4 = [9,10,1,-1,-2,-1,-3,-2,-3,-4,-4,-3,-3,-5,-5,-3,-4,-6,-6,-4,
  -5,-6,-4,-5,-6,-4,-5,-6,-5,-4,-7,-5,-6,-4,-5,-7,-6,-5,-6,-4,
  -6,-7,-5,-4,-6,-7,-7,-5,-5,-6,-6,-4,-5,-6,-8,-6,-6,-4,-6,-7,
  -5,-6,-7,-5,-6,-4,-5,-6,-7,-5,-6,-4,-6,-7,-5,-4,-7,-5,-6,-4,
  -5,-6,-6,-4,-6,-7,-7,-5,-5,-4,-6,-7,-5,-4,-6,-5,-7,-6,-5,-4,
  -6,-7,-6,-4,-5,-6,-7,-5,-5,-4,-6,-7,-6,-5,-7,-6,-5,-4,-5,-6,
  -6,-4,-5,-6,-7,-5,-6,-4,-5,-6,-6,-4,-7,-5,-6,-4,-5,-6,-6,-4,
  -5,-6,-7,-5,-6,-4,-5,-6,-6,-4,-5,-6,-7,-5,-6,-4,-6,-7,-5,-4,
  -6,-7,-6,-4,-5,-6,-7,-5,-5,-4,-6,-7,-6,-4,-7,-5,-6,-4,-5,-6,
  -5,-6,-6,-4,-7,-5,-5,-6,-6,-4,-5,-6,-6,-4,-5,-6,-5,-4,-6,-5,
  -6];

// panel texts
var letters = ["a","b","c","d","e","f","g","h","i","j","k","l"];
var jetTemps = [null, "280K", "470K", "620K"];
var phiValues = ["180", "190", "240"];
var legendNames = [["sensor # 2"], ["senosr # 3"], ["sensor # 3", "senosr # 4"]];
var rmsTexts = [
  ["12.1 Pa #2"], ["6.8 Pa #3"], ["8.4 Pa #3", "5.0 Pa #4"],
  ["84.3 Pa #2"], ["101.3 Pa #3"], ["355.4 Pa #3", "113.2 Pa #4"],
  ["90.1 Pa #2"], ["108.1 Pa #3"], ["388.7 Pa #3", "106.0 Pa #4"],
  ["90.5 Pa #2"], ["117.8 Pa #3"], ["285.2 Pa #3", "103.0 Pa #4"]
];
var signalSets = [[aSig],[bSig],[cSig3,cSig4],[dSig],[eSig],[fSig3,fSig4],
  [gSig],[hSig],[iSig3,iSig4],[jSig],[kSig],[lSig3,lSig4]];
var noiseSets = [[aNoise],[bNoise],[cNoise3,cNoise4],[dNoise],[eNoise],[fNoise3,fNoise4],
  [gNoise],[hNoise],[iNoise3,iNoise4],[jNoise],[kNoise],[lNoise3,lNoise4]];
var xTickValues = [0,0.25,0.5,0.75,1,1.25,1.5,1.75,2];
var xTickLabels = ["0","0.25","0.5","0.75","1","1.25","1.5","1.75","2"];

// layout
var plotW = 336, plotH = 356.5;
var colLeft = [61, 476.5, 892];
var rowTop = [17, 433, 848.5, 1264];
var red = "#d40000";

var svg = d3.select("#chart");

// text stretched horizontally like the original figure
function putText(parent, x, y, sx) {
  return parent.append("text").attr("transform", "translate(" + x + "," + y + ") scale(" + sx + ",1)");
}
function addParts(t, parts) {
  var shift = 0;
  parts.forEach(function(p) {
    var target = p[1] === "sub" ? 4 : p[1] === "sup" ? -6 : 0;
    var ts = t.append("tspan").text(p[0]);
    if (target !== shift) ts.attr("dy", target - shift);
    if (p[2]) ts.style("font-size", p[2]);
    shift = target;
  });
  return t;
}
function boldText(parent, x, y, anchor) {
  return putText(parent, x, y, 1.1).attr("text-anchor", anchor || "start")
    .style("font-weight", "bold").style("font-size", "15.5px");
}

function drawPanel(idx) {
  var row = Math.floor(idx / 3), col = idx % 3;
  var g = svg.append("g").attr("transform", "translate(" + colLeft[col] + "," + rowTop[row] + ")");
  var x = d3.scaleLinear().domain([0, 2]).range([0, plotW]);
  var y = d3.scaleLog().domain([0.1, 1e7]).range([plotH, 0]);
  var decades = [0.1, 1, 10, 100, 1e3, 1e4, 1e5, 1e6, 1e7];

  // grid
  g.append("g").selectAll("line").data(xTickValues.slice(1, -1)).join("line")
    .attr("x1", function(d) { return x(d); }).attr("x2", function(d) { return x(d); })
    .attr("y1", 0).attr("y2", plotH).attr("stroke", "#111").attr("stroke-width", 1.1);
  g.append("g").selectAll("line").data(decades.slice(1, -1)).join("line")
    .attr("y1", function(d) { return y(d); }).attr("y2", function(d) { return y(d); })
    .attr("x1", 0).attr("x2", plotW).attr("stroke", "#111").attr("stroke-width", 1.1);

  // data
  var clipId = "clip-" + letters[idx];
  g.append("clipPath").attr("id", clipId).append("rect").attr("width", plotW).attr("height", plotH);
  var line = d3.line().x(function(d) { return x(d[0]); }).y(function(d) { return y(d[1]); });
  var toPts = function(arr) { return arr.map(function(v, k) { return [k * stStep, Math.pow(10, v / 10)]; }); };
  var data = g.append("g").attr("clip-path", "url(#" + clipId + ")");
  var sigs = signalSets[idx], noises = noiseSets[idx];
  var colors = sigs.length > 1 ? [red, "#000"] : ["#000"];
  noises.forEach(function(arr, k) {
    data.append("path").attr("d", line(toPts(arr))).attr("fill", "none")
      .attr("stroke", colors[k]).attr("stroke-width", 1).attr("stroke-linejoin", "round");
  });
  sigs.forEach(function(arr, k) {
    data.append("path").attr("d", line(toPts(arr))).attr("fill", "none")
      .attr("stroke", colors[k]).attr("stroke-width", colors[k] === red ? 1.4 : 1.7)
      .attr("stroke-linejoin", "round");
  });

  // frame and ticks
  g.append("rect").attr("width", plotW).attr("height", plotH)
    .attr("fill", "none").attr("stroke", "#000").attr("stroke-width", 2);
  var minorY = y.ticks().filter(function(d) { return decades.indexOf(d) < 0; });
  var tickStyle = function(s) { s.select(".domain").remove(); s.selectAll("line").attr("stroke", "#000").attr("stroke-width", 1.2); s.selectAll("text").remove(); };
  g.append("g").call(d3.axisLeft(y).tickValues(decades).tickSize(-7).tickSizeOuter(0)).call(tickStyle);
  g.append("g").call(d3.axisLeft(y).tickValues(minorY).tickSize(-4).tickSizeOuter(0)).call(tickStyle);
  g.append("g").attr("transform", "translate(0," + plotH + ")")
    .call(d3.axisBottom(x).tickValues(xTickValues).tickSize(-6).tickSizeOuter(0)).call(tickStyle);
  g.append("g").attr("transform", "translate(0," + plotH + ")")
    .call(d3.axisBottom(x).tickValues(d3.range(41).map(function(i) { return i * 0.05; })).tickSize(-3.5).tickSizeOuter(0)).call(tickStyle);

  // tick labels
  decades.forEach(function(v) {
    var t = putText(g, -2.5, y(v) + 7, 1.18).attr("text-anchor", "end").style("font-size", "14.5px");
    addParts(t, [["10"], [String(Math.round(Math.log10(v))), "sup", "10.5px"]]);
  });
  xTickValues.forEach(function(v, k) {
    putText(g, x(v), plotH + 17, 1.18).attr("text-anchor", "middle").style("font-size", "14.5px").text(xTickLabels[k]);
  });

  // axis titles
  putText(g, plotW / 2, plotH + 37, 1.1).attr("text-anchor", "middle")
    .style("font-weight", "bold").style("font-size", "16.5px").text("St, -");
  var yt = g.append("text").attr("transform", "translate(-33.5," + (plotH / 2) + ") rotate(-90)")
    .attr("text-anchor", "middle").style("font-weight", "bold").style("font-size", "16px");
  addParts(yt, [["PSD, Pa"], ["2", "sup", "11px"], ["/-"]]);

  // panel letter
  putText(g, 4, 23, 1.1).style("font-weight", "bold").style("font-size", "16px").text(letters[idx] + ")");

  // info box
  g.append("rect").attr("x", 136).attr("y", 0).attr("width", plotW - 136).attr("height", 40)
    .attr("fill", "#fff").attr("stroke", "#000").attr("stroke-width", 1.2);
  var l1 = jetTemps[row] === null
    ? [["M"], ["\u221e", "sub", "8px"], ["=5.9, without jet"]]
    : [["M"], ["\u221e", "sub", "8px"], ["=5.9, T"], ["SC", "sub", "10.5px"], ["=" + jetTemps[row]]];
  addParts(boldText(g, 141, 15), l1);
  boldText(g, 141, 36).text("x/D=0, r/D=0.42, \u03c6=" + phiValues[col] + "\u00b0");

  // legend box
  var names = legendNames[col];
  g.append("rect").attr("x", 140).attr("y", 40).attr("width", plotW - 140).attr("height", names.length > 1 ? 61 : 40)
    .attr("fill", "#fff").attr("stroke", "#000").attr("stroke-width", 1.2);
  names.forEach(function(nm, k) {
    g.append("line").attr("x1", 150).attr("x2", 228).attr("y1", 63 + 22 * k).attr("y2", 63 + 22 * k)
      .attr("stroke", colors[k]).attr("stroke-width", 1.6);
    boldText(g, 241, 69 + 22 * k).text(nm);
  });

  // p'RMS box
  var rms = rmsTexts[idx];
  var rmsTop = row === 0 ? (rms.length > 1 ? 102 : 80) : (rms.length > 1 ? 229 : 253);
  var rmsH = row === 0 ? (rms.length > 1 ? 61 : 23) : (rms.length > 1 ? 44 : 22);
  var rmsBox = g.append("rect");
  var rmsG = g.append("g");
  rms.forEach(function(s, k) {
    addParts(boldText(rmsG, plotW - 4, rmsTop + (rms.length > 1 ? 14.5 : 17) + 20.5 * k, "end"),
      [["p\u2019"], ["RMS", "sub", "10.5px"], ["= " + s]]);
  });
  var bb = rmsG.node().getBBox();
  rmsBox.attr("x", bb.x - 4).attr("y", rmsTop).attr("width", plotW - bb.x + 4).attr("height", rmsH)
    .attr("fill", "#fff").attr("stroke", "#000").attr("stroke-width", 1.2);

  // noise label
  var nBox = g.append("rect");
  var nG = g.append("g");
  boldText(nG, plotW - 3, 308.5, "end").text("noise");
  var nb = nG.node().getBBox();
  nBox.attr("x", nb.x - 3).attr("y", 295).attr("width", plotW - nb.x + 3).attr("height", 18.5)
    .attr("fill", "#fff").attr("stroke", "#000").attr("stroke-width", 1.2);
}

for (var p = 0; p < 12; p++) drawPanel(p);
</script>
</body>
</html>
